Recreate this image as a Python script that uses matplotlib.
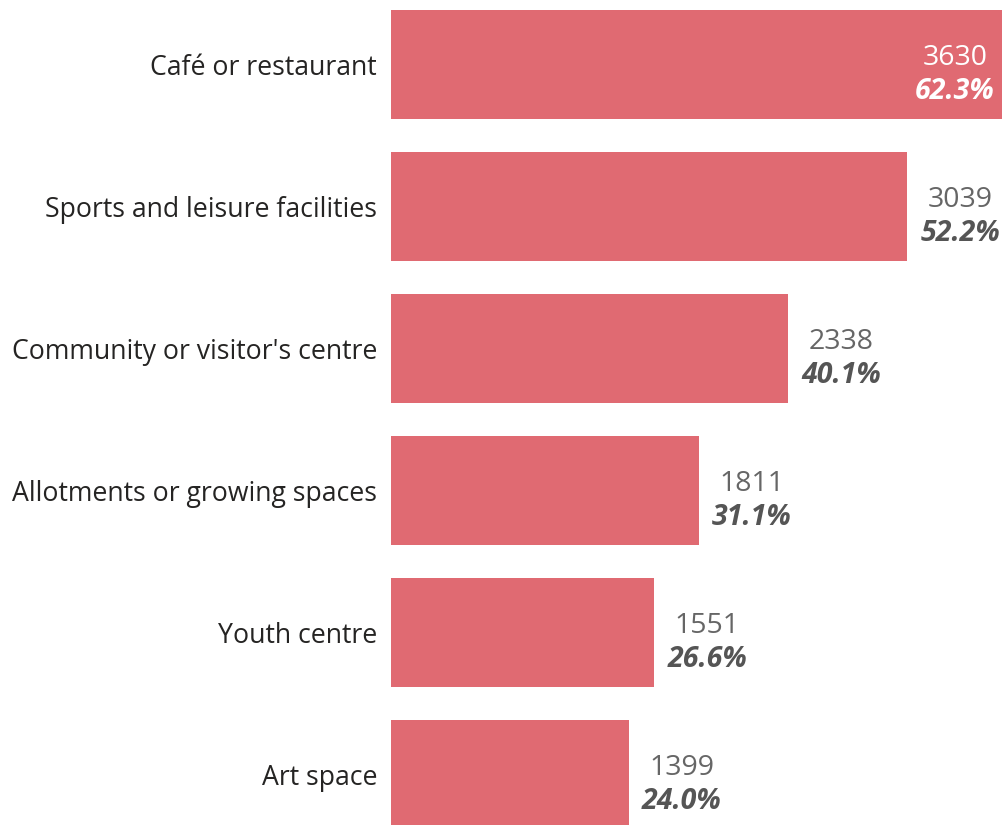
import matplotlib
import numpy as np

matplotlib.use("Agg")
import matplotlib.pyplot as plt

categories = [
    "Café or restaurant",
    "Sports and leisure facilities",
    "Community or visitor's centre",
    "Allotments or growing spaces",
    "Youth centre",
    "Art space",
]
counts = [3630, 3039, 2338, 1811, 1551, 1399]
percents = [62.3, 52.2, 40.1, 31.1, 26.6, 24.0]

BAR_COLOR = "#e06a72"
PX = 0.72  # pixels -> points at dpi 100

plt.rcParams["font.family"] = ["Open Sans", "DejaVu Sans"]


def build_plot():
    fig = plt.figure(figsize=(10.03, 8.25), dpi=100)
    ax = fig.add_axes([391 / 1003, 0, 1 - 391 / 1003, 1])
    y = np.arange(len(categories))
    ax.barh(y, counts, height=0.768, color=BAR_COLOR)
    ax.set_xlim(0, 3604)
    ax.set_ylim(5.356, -0.454)

    for side in ax.spines.values():
        side.set_visible(False)
    ax.set_xticks([])
    ax.set_yticks(y)
    ax.set_yticklabels(categories, fontsize=19.2, color="#252423")
    ax.tick_params(axis="y", length=0, pad=14 * PX)

    xmax = ax.get_xlim()[1]
    for i, (c, p) in enumerate(zip(counts, percents)):
        if c > xmax * 0.95:
            x, dx = xmax, -48
            col_c, col_p = "white", "white"
        else:
            x, dx = c, 53
            col_c, col_p = "#666666", "#555555"
        ax.annotate(f"{c}", (x, i), xytext=(dx * PX, 6 * PX),
                    textcoords="offset points", ha="center", va="center",
                    fontsize=20.5, color=col_c)
        ax.annotate(f"{p:.1f}%", (x, i), xytext=(dx * PX, -27 * PX),
                    textcoords="offset points", ha="center", va="center",
                    fontsize=20.5, color=col_p, fontweight="bold",
                    fontstyle="italic")
    return fig, ax


def main() -> None:
    fig, _ = build_plot()
    fig.savefig("out.png", dpi=100)


if __name__ == "__main__":
    main()
